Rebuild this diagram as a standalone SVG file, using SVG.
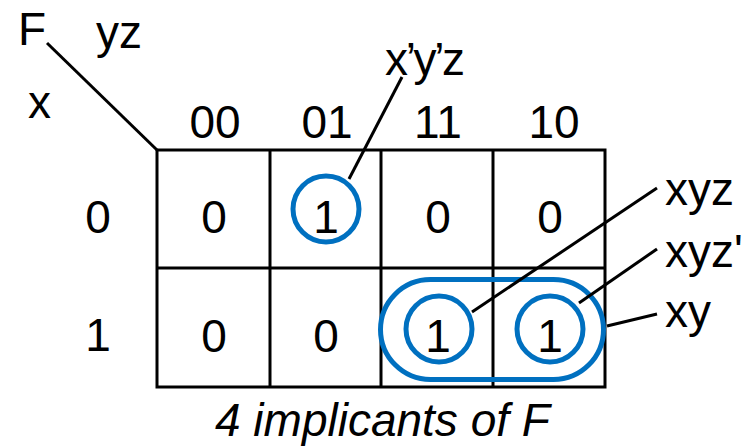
<svg xmlns="http://www.w3.org/2000/svg" width="744" height="448" viewBox="0 0 744 448">
<style>
text{font-family:"Liberation Sans",Arial,sans-serif;font-size:46px;fill:#000}
.c{text-anchor:middle}
.grid{fill:none;stroke:#000;stroke-width:3}
.lead{stroke:#000;stroke-width:3;fill:none}
.ring{fill:none;stroke:#0070C0;stroke-width:5}
</style>
<rect width="744" height="448" fill="#fff"/>
<g id="labels">
<text x="18" y="45">F</text>
<text x="96" y="48">yz</text>
<text x="28" y="118">x</text>
<text class="c" x="215" y="138">00</text>
<text class="c" x="327" y="138">01</text>
<text class="c" x="438" y="138">11</text>
<text class="c" x="554" y="138">10</text>
<text class="c" x="98" y="233">0</text>
<text class="c" x="98" y="351">1</text>
</g>
<g id="kmap">
<rect class="grid" x="157" y="150" width="448" height="237"/>
<line class="grid" x1="157" y1="268" x2="605" y2="268"/>
<line class="grid" x1="270" y1="150" x2="270" y2="387"/>
<line class="grid" x1="381" y1="150" x2="381" y2="387"/>
<line class="grid" x1="493" y1="150" x2="493" y2="387"/>
<text class="c" x="214" y="233">0</text>
<text class="c" x="326" y="233">1</text>
<text class="c" x="438" y="233">0</text>
<text class="c" x="550" y="233">0</text>
<text class="c" x="214" y="352">0</text>
<text class="c" x="326" y="352">0</text>
<text class="c" x="438" y="352">1</text>
<text class="c" x="550" y="352">1</text>
</g>
<g id="implicants">
<circle class="ring" cx="326" cy="209" r="33"/>
<circle class="ring" cx="439" cy="329" r="33"/>
<circle class="ring" cx="550" cy="329" r="33"/>
<rect class="ring" x="380.5" y="279.5" width="223" height="100" rx="50" ry="50"/>
</g>
<g id="connectors">
<line class="lead" x1="47" y1="43" x2="157" y2="150"/>
<line class="lead" x1="402" y1="77" x2="349" y2="179"/>
<line class="lead" x1="657" y1="188" x2="472" y2="312"/>
<line class="lead" x1="657" y1="249" x2="579" y2="303"/>
<line class="lead" x1="607" y1="326" x2="657" y2="314"/>
</g>
<g id="terms">
<text x="385" y="75" textLength="80" lengthAdjust="spacing">x’y’z</text>
<text x="665" y="205">xyz</text>
<text x="665" y="267">xyz'</text>
<text x="665" y="327">xy</text>
</g>
<text x="215" y="436" font-style="italic">4 implicants of F</text>
</svg>
